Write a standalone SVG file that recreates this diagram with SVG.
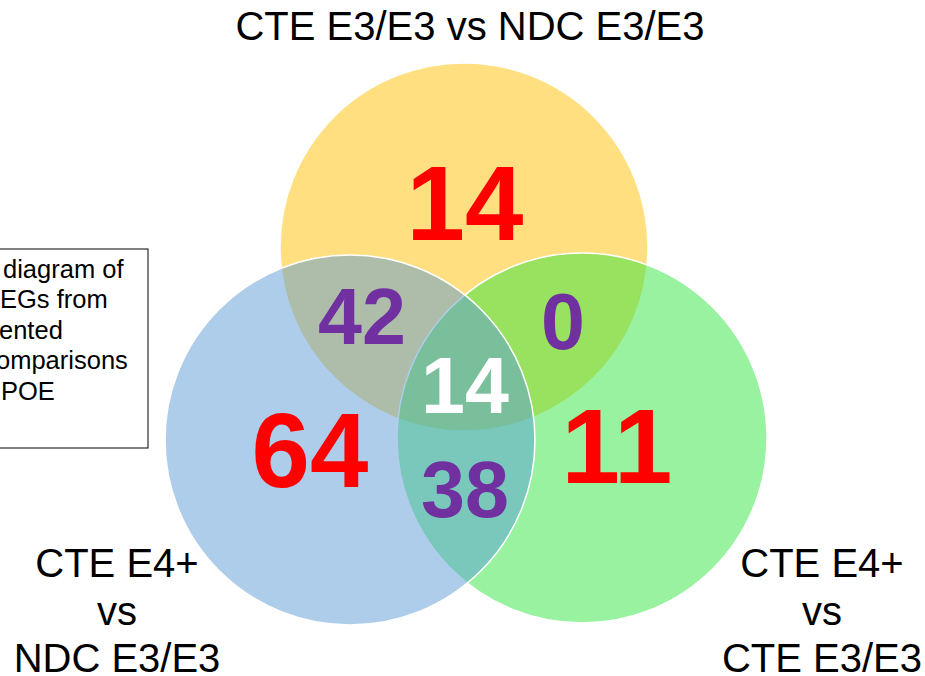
<svg xmlns="http://www.w3.org/2000/svg" width="925" height="676" viewBox="0 0 925 676">
<style>
.set{stroke:#ffffff;stroke-width:1.5;fill-opacity:0.5}
.lbl{font-family:"Liberation Sans",Arial,sans-serif;font-size:40px;fill:#000;text-anchor:middle}
.big{font-family:"Liberation Sans",Arial,sans-serif;font-weight:bold;font-size:105px;fill:#ff0000;text-anchor:middle}
.mid{font-family:"Liberation Sans",Arial,sans-serif;font-weight:bold;font-size:79px;fill:#7030a0;text-anchor:middle}
.note{font-family:"Liberation Sans",Arial,sans-serif;font-size:25.5px;fill:#000}
</style>
<rect width="925" height="676" fill="#ffffff"/>
<g id="note">
<rect x="-10" y="249" width="158" height="199" fill="#ffffff" stroke="#000" stroke-width="1"/>
<text class="note" x="3" y="278">diagram of</text>
<text class="note" x="0" y="308">EGs from</text>
<text class="note" x="-1" y="339">ented</text>
<text class="note" x="-4" y="369">omparisons</text>
<text class="note" x="1" y="400">POE</text>
</g>
<g id="set-yellow"><circle class="set" cx="464" cy="247" r="184" fill="#ffc000"/></g>
<g id="set-green"><circle class="set" cx="582" cy="438" r="185" fill="#31e541"/></g>
<g id="set-blue"><circle class="set" cx="350" cy="440" r="185" fill="#5b9bd5"/></g>
<g id="labels">
<text class="lbl" x="470" y="40">CTE E3/E3 vs NDC E3/E3</text>
<text class="lbl" x="117" y="577">CTE E4+</text>
<text class="lbl" x="117" y="625">vs</text>
<text class="lbl" x="117" y="672">NDC E3/E3</text>
<text class="lbl" x="822" y="577">CTE E4+</text>
<text class="lbl" x="822" y="625">vs</text>
<text class="lbl" x="822" y="672">CTE E3/E3</text>
</g>
<g id="counts">
<text class="big" x="465" y="240">14</text>
<text class="big" x="310" y="487">64</text>
<text class="big" x="617" y="483">11</text>
<text class="mid" x="362" y="344">42</text>
<text class="mid" x="563" y="349">0</text>
<text class="mid" x="465" y="413" style="fill:#ffffff">14</text>
<text class="mid" x="465" y="517">38</text>
</g>
</svg>
